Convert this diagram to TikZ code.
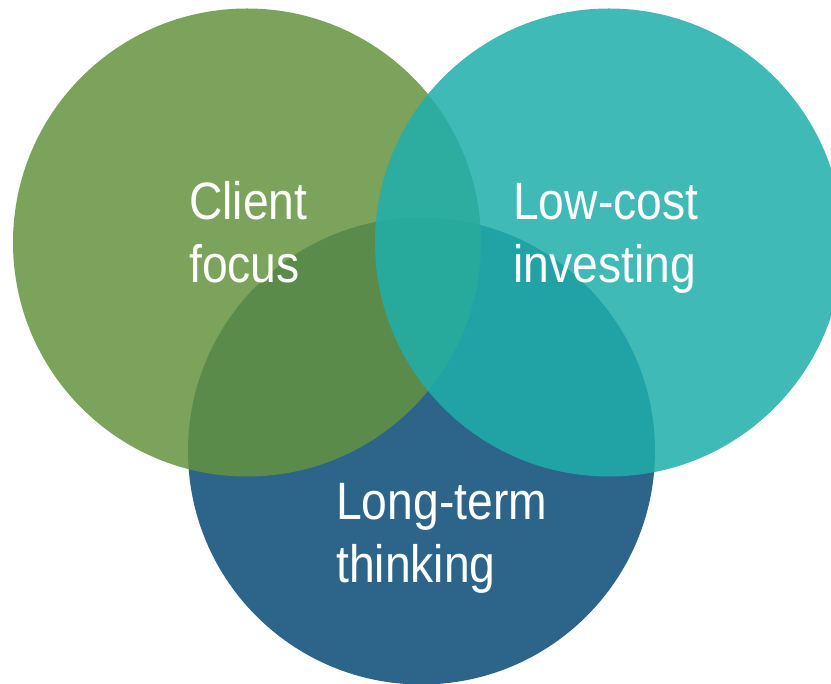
\documentclass[tikz,border=0pt]{standalone}
\usepackage{fontspec}
\newfontfamily\lblfont[FakeStretch=0.88]{Liberation Sans}
\definecolor{cblue}{RGB}{45,100,137}
\definecolor{cgreen}{RGB}{100,147,63}
\definecolor{cteal}{RGB}{31,175,171}
\tikzset{
  venn/.style={draw=none},
  lbl/.style={anchor=base west, inner sep=0pt, text=white,
    font=\lblfont\fontsize{52.6}{63}\selectfont}
}
\begin{document}
\begin{tikzpicture}[x=1pt,y=-1pt]
\useasboundingbox (0,0) rectangle (831,684);
\clip (0,0) rectangle (831,684);
\fill[white] (0,0) rectangle (831,684);
\fill[venn, cblue] (421.5,451) circle[radius=233.5];
\fill[venn, cgreen, fill opacity=0.85] (247,242.5) circle[radius=234];
\fill[venn, cteal, fill opacity=0.85] (609,242.5) circle[radius=234];
\node[lbl] (c1) at (189,220) {Client};
\node[lbl] (c2) at (189,283) {focus};
\node[lbl] (l1) at (513,220) {Low-cost};
\node[lbl] (l2) at (513,283) {investing};
\node[lbl] (t1) at (336,520) {Long-term};
\node[lbl] (t2) at (336,583) {thinking};
\end{tikzpicture}
\end{document}
